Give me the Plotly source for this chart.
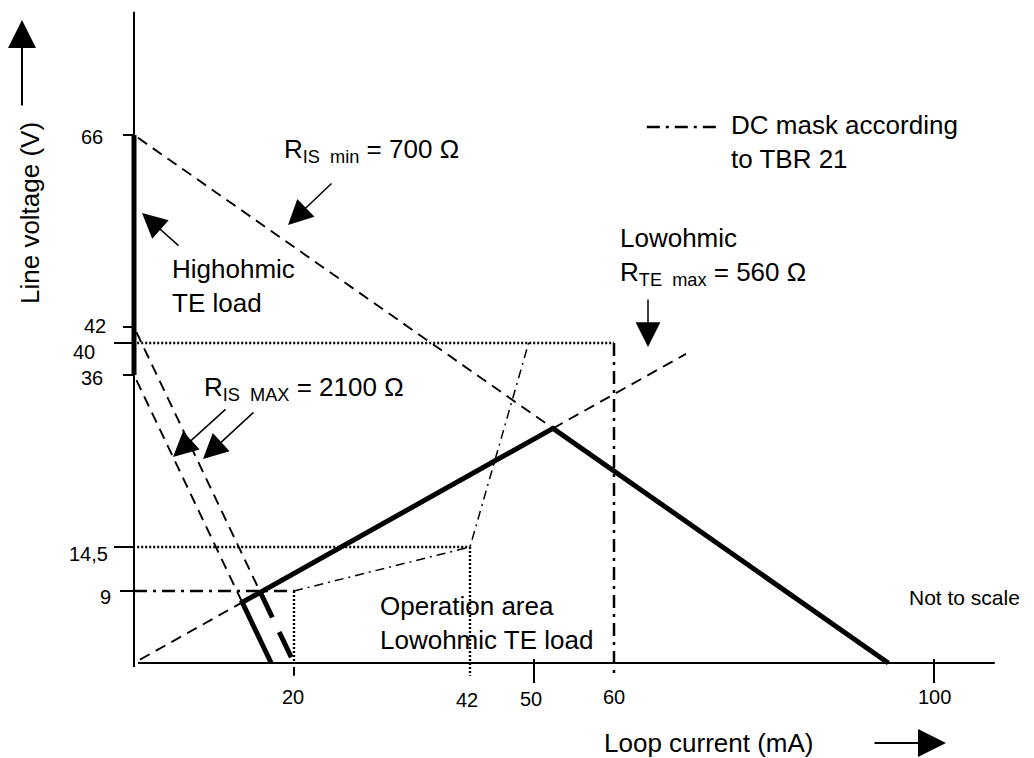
import plotly.graph_objects as go

# ---- figure geometry -------------------------------------------------------
W, H = 1034, 758
PX_PER_MA = 8.0          # horizontal scale, pixels per mA
PX_PER_V = 8.0           # vertical scale, pixels per V
ORIGIN_PX = (134, 663)   # pixel position of (0 mA, 0 V)

X_RANGE = [-ORIGIN_PX[0] / PX_PER_MA, (W - ORIGIN_PX[0]) / PX_PER_MA]
Y_RANGE = [-(H - ORIGIN_PX[1]) / PX_PER_V, ORIGIN_PX[1] / PX_PER_V]

FONT = "Liberation Sans, Arial, sans-serif"

# ---- electrical values -----------------------------------------------------
V_IS_MIN = 66            # V, start of the R_IS min load line
R_IS_MIN = 700           # ohm
R_TE_MAX = 560           # ohm
R_IS_MAX = 2100          # ohm
V_IS_MAX = [42, 36]      # V, start voltages of the two R_IS MAX lines
HIGHOHMIC_V = [36, 66]   # V, highohmic TE load range on the voltage axis
TE_MAX_END_MA = 69       # mA, end of the drawn R_TE max line

# DC mask according to TBR 21
mask_ma = [0, 20, 42, 49.5]
mask_v = [9, 9, 14.5, 40.6]
MASK_LIMIT_MA = 60
MASK_LIMIT_V = 40

# axis ticks
x_tick_vals = [20, 42, 50, 60, 100]
x_tick_text = ["20", "42", "50", "60", "100"]
y_tick_vals = [66, 42, 40, 36, 14.5, 9]
y_tick_text = ["66", "42", "40", "36", "14,5", "9"]


def load_v(v0, r_ohm, i_ma):
    return v0 - r_ohm / 1000.0 * i_ma


def te_v(i_ma):
    return R_TE_MAX / 1000.0 * i_ma


def cross(v0, r_ohm):
    """current where a source line meets the R_TE max line"""
    return v0 / ((r_ohm + R_TE_MAX) / 1000.0)


i_peak = cross(V_IS_MIN, R_IS_MIN)
i_hi = cross(V_IS_MAX[0], R_IS_MAX)
i_lo = cross(V_IS_MAX[1], R_IS_MAX)
i_zero_min = V_IS_MIN / (R_IS_MIN / 1000.0)
i_zero_hi = V_IS_MAX[0] / (R_IS_MAX / 1000.0)
i_zero_lo = V_IS_MAX[1] / (R_IS_MAX / 1000.0)

DASH = "11px,7px"
DOT = "2px,2px"
DASHDOT = "13px,6px,3px,6px"
DASHDOT_THIN = "9px,5px,2px,5px"

fig = go.Figure()


def line(xs, ys, width, dash="solid"):
    fig.add_trace(go.Scatter(
        x=xs, y=ys, mode="lines",
        line=dict(color="black", width=width, dash=dash),
        hoverinfo="skip", showlegend=False,
    ))


# axes
line([0, 0], [-0.5, 81.4], 2)
line([0.5, 107.6], [0, 0], 2)

# dotted guide lines
line([0.4, MASK_LIMIT_MA], [MASK_LIMIT_V, MASK_LIMIT_V], 2.4, DOT)
line([0.4, mask_ma[2]], [mask_v[2], mask_v[2]], 2.4, DOT)
line([mask_ma[2], mask_ma[2]], [mask_v[2], -1.6], 2.4, DOT)
line([mask_ma[1], mask_ma[1]], [mask_v[1], 0], 2.4, DOT)

# DC mask (dash-dot)
line(mask_ma[:2], mask_v[:2], 2.5, DASHDOT)
line(mask_ma[1:], mask_v[1:], 1.5, DASHDOT_THIN)
line([MASK_LIMIT_MA, MASK_LIMIT_MA], [MASK_LIMIT_V, -1.6], 2.5, DASHDOT)

# R_TE max line
line([0.75, i_lo], [te_v(0.75), te_v(i_lo)], 1.9, DASH)
line([i_peak, TE_MAX_END_MA], [te_v(i_peak), te_v(TE_MAX_END_MA)], 1.9, DASH)

# R_IS min line
line([0.5, i_peak], [load_v(V_IS_MIN, R_IS_MIN, 0.5), load_v(V_IS_MIN, R_IS_MIN, i_peak)], 1.9, DASH)

# R_IS MAX lines
line([0.3, i_hi], [load_v(V_IS_MAX[0], R_IS_MAX, 0.3), load_v(V_IS_MAX[0], R_IS_MAX, i_hi)], 1.9, DASH)
line([0.3, i_lo], [load_v(V_IS_MAX[1], R_IS_MAX, 0.3), load_v(V_IS_MAX[1], R_IS_MAX, i_lo)], 1.9, DASH)

# operating boundary (thick)
line([i_hi, i_zero_hi - 0.3], [load_v(V_IS_MAX[0], R_IS_MAX, i_hi), load_v(V_IS_MAX[0], R_IS_MAX, i_zero_hi - 0.3)], 5, "28px,16px")
line([i_zero_lo, i_lo, i_peak, i_zero_min],
     [0, te_v(i_lo), te_v(i_peak), 0], 5)
line([0, 0], HIGHOHMIC_V, 5)

# tick marks
y_tick_len_px = [11, 11, 20, 11, 20, 14]
for v, ln in zip(y_tick_vals, y_tick_len_px):
    line([-ln / PX_PER_MA, 0], [v, v], 2)
line([x_tick_vals[0], x_tick_vals[0]], [-0.5, -1.6], 2)
for i in (x_tick_vals[2], x_tick_vals[4]):
    line([i, i], [0.5, -2.5], 2)

# legend sample
line([64.1, 72.9], [67, 67], 2.5, DASHDOT)

annotations = []


def px_to_paper(px, py):
    return px / W, 1 - py / H


def text(s, px, py, size=26, xanchor="left", angle=0):
    x, y = px_to_paper(px, py)
    annotations.append(dict(
        text=s, x=x, y=y, xref="paper", yref="paper", showarrow=False,
        xanchor=xanchor, yanchor="middle", align="left", textangle=angle,
        font=dict(family=FONT, size=size, color="black"),
    ))


def arrow(tip, tail, width=1.5, size=3.3):
    x, y = px_to_paper(*tip)
    annotations.append(dict(
        text="", x=x, y=y, xref="paper", yref="paper", showarrow=True,
        ax=tail[0] - tip[0], ay=tail[1] - tip[1], axref="pixel", ayref="pixel",
        arrowhead=2, arrowsize=size, arrowwidth=width, arrowcolor="black",
        standoff=0,
    ))


# tick labels
y_label_px = [(105, 137), (108, 326), (97, 352), (105, 378), (110, 554), (113, 597)]
for t, (px, py) in zip(y_tick_text, y_label_px):
    text(t, px, py, size=20, xanchor="right")
x_label_px = [(293, 697), (467, 700), (531, 699), (614, 697), (934, 697)]
for t, (px, py) in zip(x_tick_text, x_label_px):
    text(t, px, py, size=20, xanchor="center")

NB = "\u00a0"
text("Highohmic<br>TE load", 170, 286)
text(f"R<sub>IS{NB} min</sub> = {R_IS_MIN} Ω", 282, 150)
text(f"R<sub>IS{NB} MAX</sub> = {R_IS_MAX} Ω", 202, 388)
text(f"Lowohmic<br>R<sub>TE{NB} max</sub> = {R_TE_MAX} Ω", 618, 256)
text("DC mask according<br>to TBR 21", 729, 142)
text("Operation area<br>Lowohmic TE load", 378, 623)
text("Not to scale", 907, 597, size=21)
text("Loop current (mA)", 602, 743)
text("Line voltage (V)", 30, 213, xanchor="center", angle=-90)

arrow((142, 213), (180, 247))
arrow((288, 225), (333, 182))
arrow((173, 457), (227, 408))
arrow((203, 459), (255, 411))
arrow((648, 347), (648, 298))
arrow((22, 20), (22, 107), width=2, size=2.8)
arrow((946, 743), (873, 743), width=2, size=2.8)

fig.update_layout(
    width=W, height=H,
    margin=dict(l=0, r=0, t=0, b=0),
    paper_bgcolor="white", plot_bgcolor="white",
    xaxis=dict(range=X_RANGE, visible=False, fixedrange=True),
    yaxis=dict(range=Y_RANGE, visible=False, fixedrange=True),
    annotations=annotations,
    font=dict(family=FONT, color="black"),
)

fig.write_html("out.html")
